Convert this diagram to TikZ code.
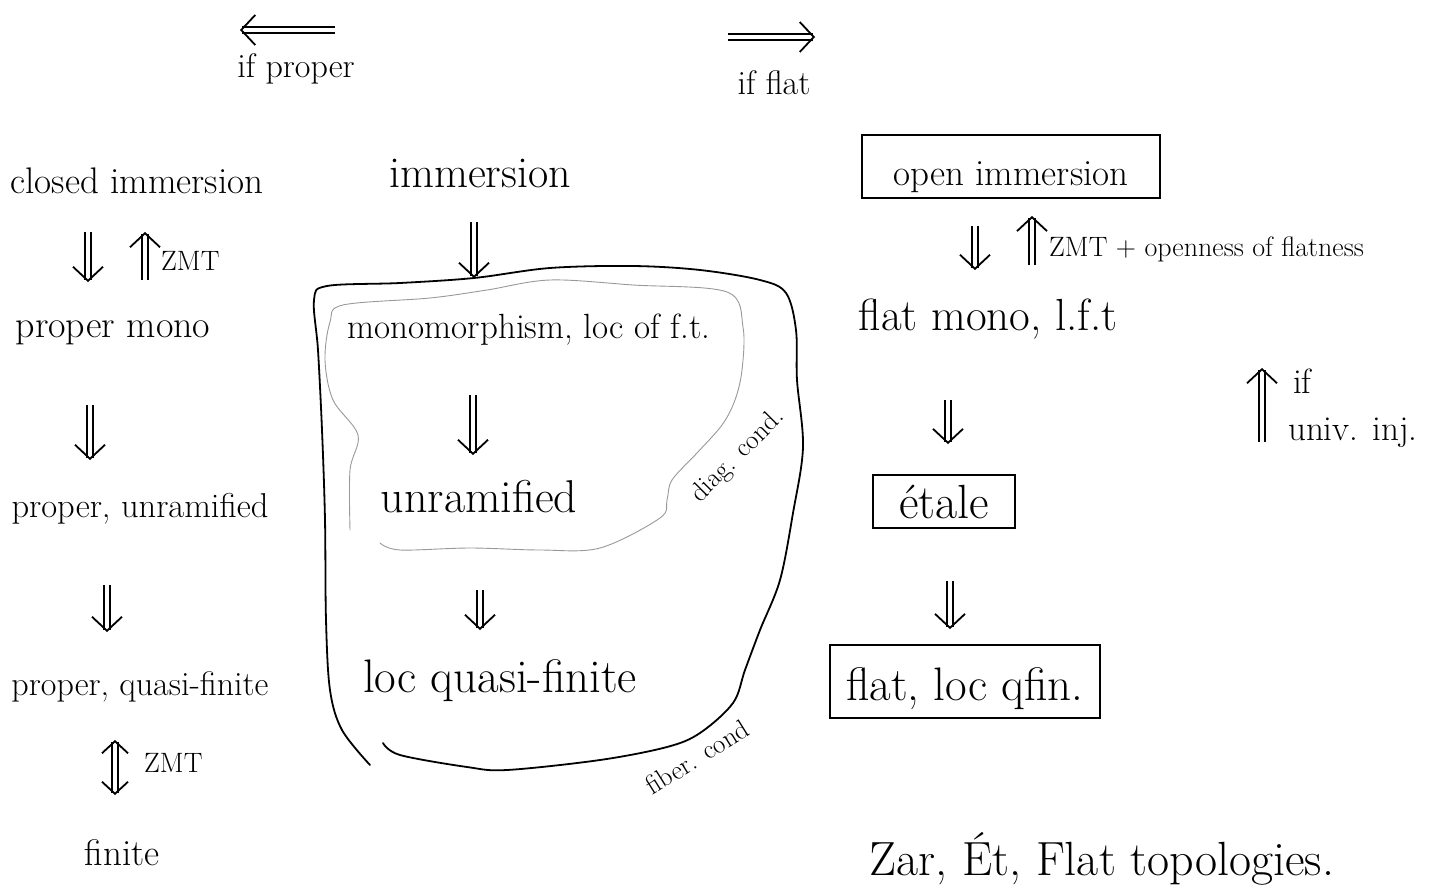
\documentclass[tikz,border=0pt]{standalone}
\usepackage{fontspec}
\usetikzlibrary{arrows.meta,calc}
\newcommand{\fsz}[1]{\fontsize{#1}{#1}\selectfont}
\begin{document}
\begin{tikzpicture}[x=1pt,y=-1pt,
  lbl/.style={inner sep=0pt, anchor=base},
  lblw/.style={inner sep=0pt, anchor=base west},
  boxed/.style={draw, line width=1.8pt, inner sep=0pt},
  dimp/.style={double, double distance=4pt, line width=1.6pt, >={Straight Barb[length=14pt,width=30pt,line width=1.8pt]}, ->},
  dimpb/.style={double, double distance=4pt, line width=1.6pt, >={Straight Barb[length=12pt,width=26pt,line width=1.8pt]}, <->},
  blob/.style={line width=1.8pt, line join=round, line cap=round},
  faint/.style={black!40, line width=0.9pt, line cap=round}]
\useasboundingbox (0,0) rectangle (1440,888);
\fill[white] (0,0) rectangle (1440,888);

% top arrows
\coordinate (tla) at (335,30);
\coordinate (tlb) at (240,30);
\draw[dimp] (tla) -- (tlb);
\node[lbl, font=\fsz{34}] (ifp) at (296,78) {if proper};
\coordinate (tra) at (728,37);
\coordinate (trb) at (815,37);
\draw[dimp] (tra) -- (trb);
\node[lbl, font=\fsz{34}] (iff) at (774,95) {if flat};

% left column
\node[lbl, font=\fsz{37}] (closed) at (137,193) {closed immersion};
\node[lbl, font=\fsz{38}] (pmono) at (113,337) {proper mono};
\node[lbl, font=\fsz{34.5}] (punr) at (140,517) {proper, unramified};
\node[lbl, font=\fsz{34}] (pqf) at (140,695) {proper, quasi-finite};
\node[lbl, font=\fsz{37}] (fin) at (122,865) {finite};

\draw[dimp, shorten <=39pt, shorten >=55pt] (closed.base -| 88,0) -- (pmono.base -| 88,0);
\draw[dimp, shorten <=57pt, shorten >=39pt] (pmono.base -| 145,0) -- (closed.base -| 145,0);
\node[lblw, font=\fsz{28}] (zmt1) at (161,270) {ZMT};
\draw[dimp, shorten <=68pt, shorten >=57pt] (pmono.base -| 90,0) -- (punr.base -| 90,0);
\draw[dimp, shorten <=68pt, shorten >=63pt] (punr.base -| 107,0) -- (pqf.base -| 107,0);
\draw[dimpb, shorten <=45pt, shorten >=70pt] (pqf.base -| 115,0) -- (fin.base -| 115,0);
\node[lblw, font=\fsz{28}] (zmt2) at (144,772) {ZMT};

% middle column
\node[lbl, font=\fsz{44}] (imm) at (480,187) {immersion};
\coordinate (blobtop) at (474,278);
\draw[dimp, shorten <=35pt] (imm.base -| 474,0) -- (blobtop);

\draw[blob] plot[smooth, tension=0.55] coordinates {(370,765) (342,730) (330,690) (326,620) (325,520) (322,430) (318,350) (314,300) (327,286) (400,283) (474,278) (550,268) (633,266) (700,270) (760,280) (786,293) (796,330) (797,380) (803,447) (793,513) (780,580) (760,630) (745,670) (733,703) (700,733) (667,747) (600,760) (507,770) (467,767) (400,755) (383,743)};
\draw[faint] plot[smooth, tension=0.55] coordinates {(350,530) (350,470) (358,435) (333,400) (325,360) (330,322) (343,305) (430,298) (487,290) (550,280) (633,285) (727,292) (743,327) (742,370) (735,400) (722,425) (697,453) (672,480) (667,500) (660,518) (600,548) (540,550) (470,548) (400,550) (380,543)};

\node[lbl, font=\fsz{35}] (monoft) at (529,338) {monomorphism, loc of f.t.};
\node[lbl, font=\fsz{46}] (unr) at (479,512) {unramified};
\node[lbl, font=\fsz{47}] (lqf) at (500,692) {loc quasi-finite};
\draw[dimp, shorten <=57pt, shorten >=57pt] (monoft.base -| 473,0) -- (unr.base -| 473,0);
\draw[dimp, shorten <=78pt, shorten >=62pt] (unr.base -| 480,0) -- (lqf.base -| 480,0);
\node[inner sep=0pt, font=\fsz{27}, rotate=45] (diag) at (738,456) {diag. cond.};
\node[inner sep=0pt, font=\fsz{27}, rotate=32] (fib) at (697,757) {fiber. cond};

% right column
\node[boxed, font=\fsz{37}, text height=37pt, text depth=0pt, minimum width=298pt, minimum height=63pt] (open) at (1011,166.5) {open immersion};
\node[lbl, font=\fsz{45}] (fmono) at (988,330) {flat mono, l.f.t};
\node[boxed, font=\fsz{48}, text height=33pt, text depth=0pt, minimum width=142pt, minimum height=53pt] (etale) at (944,501.5) {étale};
\node[boxed, font=\fsz{47}, text height=40pt, text depth=3pt, minimum width=270pt, minimum height=73pt] (floc) at (965,681.5) {flat, loc qfin.};
\draw[dimp, shorten <=27pt, shorten >=60pt] (open.south -| 975,0) -- (fmono.base -| 975,0);
\draw[dimp, shorten <=65pt, shorten >=17pt] (fmono.base -| 1032,0) -- (open.south -| 1032,0);
\node[lblw, font=\fsz{28}] (zmtopen) at (1049,256) {ZMT + openness of flatness};
\draw[dimp, shorten <=70pt, shorten >=30pt] (fmono.base -| 948,0) -- (etale.north -| 948,0);
\draw[dimp, shorten <=52pt, shorten >=15pt] (etale.south -| 950,0) -- (floc.north -| 950,0);

\coordinate (uia) at (1262,442);
\coordinate (uib) at (1262,368);
\draw[dimp] (uia) -- (uib);
\node[lblw, font=\fsz{35}] (ifu) at (1293,393) {if};
\node[lblw, font=\fsz{35}] (univ) at (1288,440) {univ. inj.};

\node[lbl, font=\fsz{48}] (topo) at (1102,875) {Zar, Ét, Flat topologies.};
\end{tikzpicture}
\end{document}
